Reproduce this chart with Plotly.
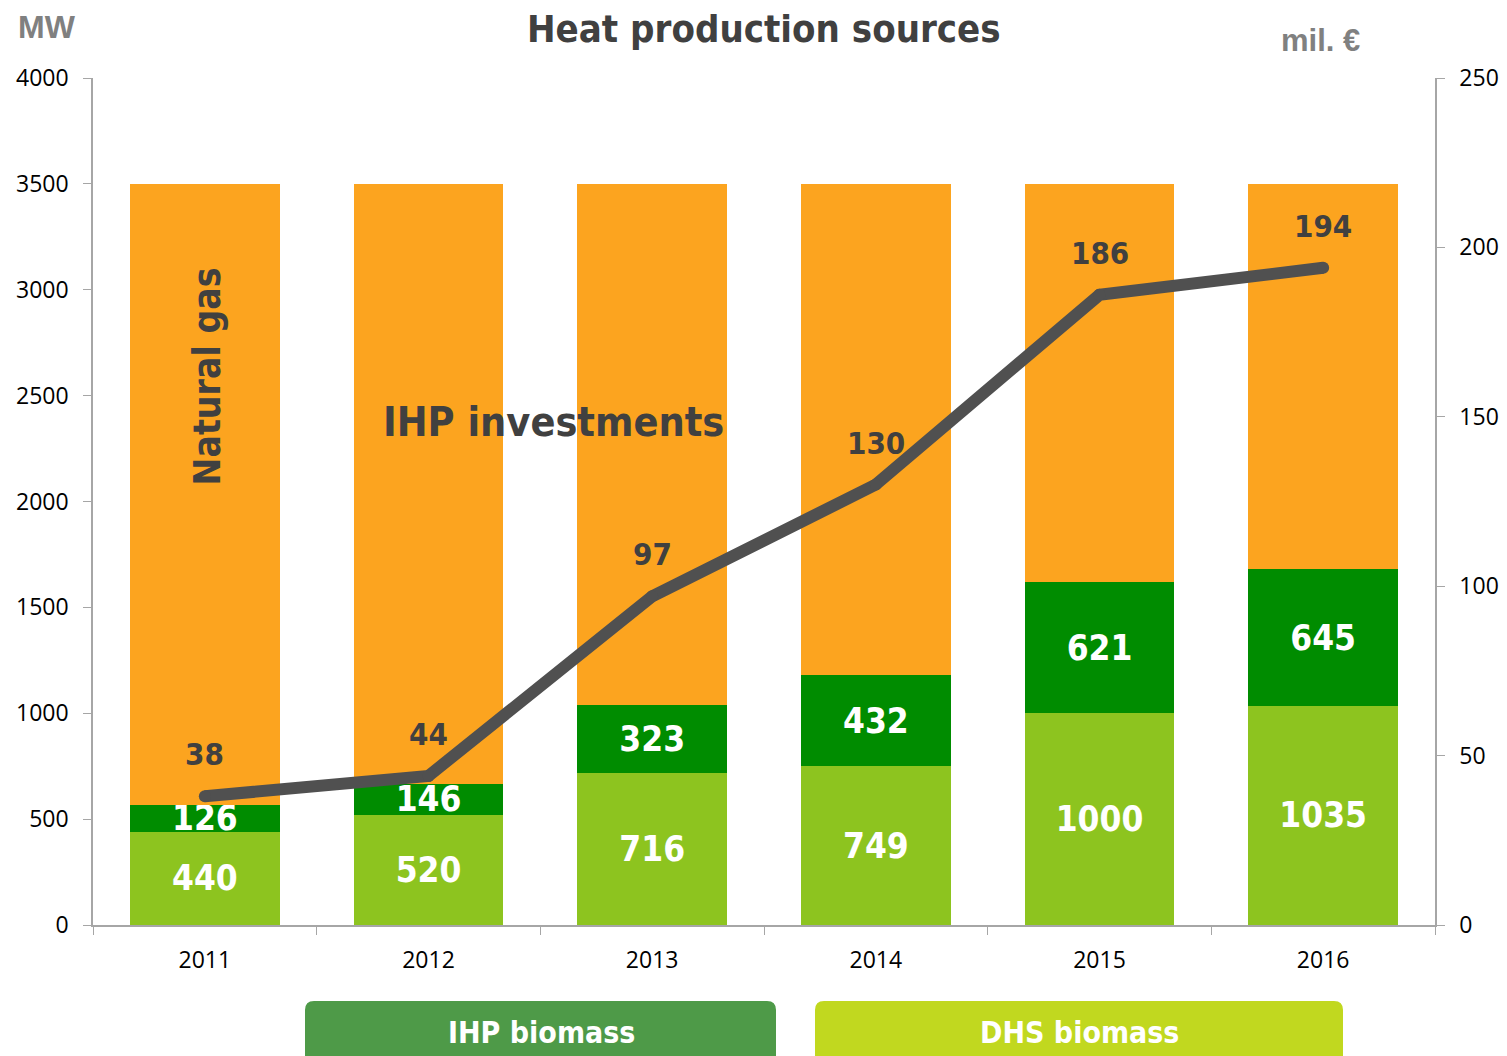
import plotly.graph_objects as go

years = ["2011", "2012", "2013", "2014", "2015", "2016"]
dhs_biomass = [440, 520, 716, 749, 1000, 1035]
ihp_biomass = [126, 146, 323, 432, 621, 645]
total_capacity = [3500, 3500, 3500, 3500, 3500, 3500]
natural_gas = [t - a - b for t, a, b in zip(total_capacity, dhs_biomass, ihp_biomass)]
ihp_investments = [38, 44, 97, 130, 186, 194]

left_ticks = [0, 500, 1000, 1500, 2000, 2500, 3000, 3500, 4000]
right_ticks = [0, 50, 100, 150, 200, 250]

NARROW = "DejaVu Sans Condensed, Liberation Sans Narrow, sans-serif"
TICKFONT = dict(family="Open Sans, Lato, sans-serif", size=23, color="#000000")
C_LIGHT = "#8DC41F"
C_DARK = "#008C00"
C_ORANGE = "#FCA41F"
C_LINE = "#505050"
C_TEXT = "#404040"

fig = go.Figure()
fig.add_trace(go.Bar(
    x=years, y=dhs_biomass, name="DHS biomass", marker=dict(color=C_LIGHT, line=dict(width=0)),
    text=[str(v) for v in dhs_biomass], textposition="inside", insidetextanchor="middle",
    constraintext="none",
    textfont=dict(family=NARROW, size=35, color="white", weight="bold"),
))
fig.add_trace(go.Bar(
    x=years, y=ihp_biomass, name="IHP biomass", marker=dict(color=C_DARK, line=dict(width=0)),
    text=[str(v) for v in ihp_biomass], textposition="inside", insidetextanchor="middle",
    constraintext="none",
    textfont=dict(family=NARROW, size=35, color="white", weight="bold"),
))
fig.add_trace(go.Bar(
    x=years, y=natural_gas, name="Natural gas", marker=dict(color=C_ORANGE, line=dict(width=0)),
))
fig.add_trace(go.Scatter(
    x=years, y=ihp_investments, yaxis="y2", mode="lines+markers", name="IHP investments",
    line=dict(color=C_LINE, width=12), marker=dict(color=C_LINE, size=12),
))

annotations = []
for i, v in enumerate(ihp_investments):
    annotations.append(dict(
        x=i, y=v, xref="x", yref="y2", text=str(v), showarrow=False, yshift=42,
        xanchor="center", yanchor="middle",
        font=dict(family=NARROW, size=31, color=C_TEXT, weight="bold"),
    ))

annotations += [
    dict(x=0.5, y=1.0, xref="paper", yref="paper", xanchor="center", yanchor="middle", yshift=49,
         text="Heat production sources", showarrow=False, borderpad=0,
         font=dict(family=NARROW, size=38, color=C_TEXT, weight="bold")),
    dict(x=-0.0343, y=1.0, xref="paper", yref="paper", yshift=51,
         text="MW", showarrow=False, xanchor="center", yanchor="middle",
         font=dict(family="Liberation Sans, Arial, sans-serif", size=32, color="#808080", weight="bold")),
    dict(x=0.915, y=1.0, xref="paper", yref="paper", yshift=38,
         text="mil. €", showarrow=False, xanchor="center", yanchor="middle",
         font=dict(family="Liberation Sans, Arial, sans-serif", size=31, color="#808080", weight="bold")),
    dict(x=0, y=2590, xref="x", yref="y", text="Natural gas", textangle=-90,
         showarrow=False, xshift=3, xanchor="center", yanchor="middle",
         font=dict(family=NARROW, size=37, color=C_TEXT, weight="bold")),
    dict(x=0.343, y=2375, xref="paper", yref="y", text="IHP investments",
         showarrow=False, xanchor="center", yanchor="middle",
         font=dict(family=NARROW, size=41, color=C_TEXT, weight="bold")),
]

# legend boxes (rounded top corners) at bottom, in paper coordinates
W, H = 1342.0, 847.0
def px_x(p):
    return (p - 93) / W
def px_y(p):
    return (925 - p) / H

def rounded_box(x0p, x1p, y0p, y1p, r=9):
    x0, x1 = px_x(x0p), px_x(x1p)
    yt, yb = px_y(y0p), px_y(y1p)
    dx, dy = r / W, r / H
    return (f"M {x0},{yb} L {x0},{yt - dy} Q {x0},{yt} {x0 + dx},{yt} "
            f"L {x1 - dx},{yt} Q {x1},{yt} {x1},{yt - dy} L {x1},{yb} "
            f"Q {x1},{yb - dy} {x1 - dx},{yb - dy} L {x0 + dx},{yb - dy} Q {x0},{yb - dy} {x0},{yb} Z")

shapes = [
    dict(type="path", xref="paper", yref="paper", path=rounded_box(305, 776, 1001, 1062),
         fillcolor="#4E9A48", line=dict(width=0), layer="above"),
    dict(type="path", xref="paper", yref="paper", path=rounded_box(815, 1343, 1001, 1062),
         fillcolor="#C1D81F", line=dict(width=0), layer="above"),
]
annotations += [
    dict(x=px_x(541), y=px_y(1032), xref="paper", yref="paper", xanchor="center", yanchor="middle",
         text="IHP biomass", showarrow=False,
         font=dict(family=NARROW, size=30, color="white", weight="bold")),
    dict(x=px_x(1079), y=px_y(1032), xref="paper", yref="paper", xanchor="center", yanchor="middle",
         text="DHS biomass", showarrow=False,
         font=dict(family=NARROW, size=30, color="white", weight="bold")),
]

# The page body has an 8px margin; size the figure so the plot area lands where the reference's does.
fig.update_layout(
    width=1499, height=1048,
    margin=dict(l=85, r=72, t=70, b=131, pad=0, autoexpand=False),
    paper_bgcolor="white", plot_bgcolor="white",
    barmode="stack", bargap=0.33,
    showlegend=False,
    annotations=annotations, shapes=shapes,
    xaxis=dict(
        type="category", range=[-0.5, len(years) - 0.5], automargin=False,
        showgrid=False, showline=True, linecolor="#A6A6A6", linewidth=1.5,
        ticks="outside", tickson="boundaries", ticklen=8, tickcolor="#A6A6A6",
        tickfont=TICKFONT, zeroline=False, tickangle=0, ticklabelstandoff=14,
    ),
    yaxis=dict(
        range=[0, 4000], tickvals=left_ticks, showgrid=False, zeroline=False, automargin=False,
        showline=True, linecolor="#A6A6A6", linewidth=1.5,
        ticks="outside", ticklen=8, tickcolor="#A6A6A6", tickfont=TICKFONT,
        ticklabelstandoff=10,
    ),
    yaxis2=dict(
        range=[0, 250], tickvals=right_ticks, overlaying="y", side="right", automargin=False,
        showgrid=False, zeroline=False, showline=True, linecolor="#A6A6A6", linewidth=1.5,
        ticks="outside", ticklen=8, tickcolor="#A6A6A6", tickfont=TICKFONT,
        ticklabelstandoff=10,
    ),
)

fig.write_html("out.html")
